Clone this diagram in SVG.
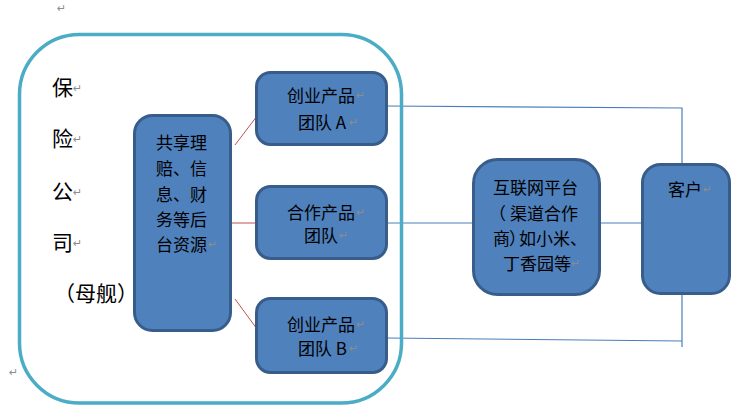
<svg xmlns="http://www.w3.org/2000/svg" width="755" height="415" viewBox="0 0 755 415">
<style>
.box{fill:#4F81BD;stroke:#385D8A;stroke-width:3}
.t{font-family:"Noto Sans CJK SC","Liberation Sans",sans-serif;font-size:17px;fill:#000}
.big{font-family:"Noto Sans CJK SC","Liberation Sans",sans-serif;font-size:21px;fill:#000}
.pm{font-family:"DejaVu Sans",sans-serif;font-size:11px;fill:#8c8c8c}
.red{stroke:#C0504D;stroke-width:1;fill:none}
.blue{stroke:#4A7EBB;stroke-width:1.2;fill:none}
</style>
<rect width="755" height="415" fill="#fff"/>
<text class="pm" x="57" y="12">↵</text>
<text class="pm" x="9" y="376">↵</text>
<g id="connectors">
<line class="red" x1="235" y1="145" x2="257" y2="116"/>
<line class="red" x1="231" y1="223" x2="257" y2="223"/>
<line class="red" x1="235" y1="299" x2="257" y2="329"/>
<line class="blue" x1="387" y1="223" x2="642" y2="223"/>
<polyline class="blue" points="386,106 682,108 682,164"/>
<line class="blue" x1="386" y1="338" x2="682" y2="341"/>
<line class="blue" x1="682" y1="294" x2="682" y2="347"/>
</g>
<g id="mothership">
<rect x="19.5" y="34.5" width="382" height="368.5" rx="60" fill="none" stroke="#4BACC6" stroke-width="3.5"/>
<text class="big" x="52" y="95">保</text><text class="pm" x="73" y="92">↵</text>
<text class="big" x="52" y="146">险</text><text class="pm" x="73" y="143">↵</text>
<text class="big" x="52" y="199">公</text><text class="pm" x="73" y="196">↵</text>
<text class="big" x="52" y="250">司</text><text class="pm" x="73" y="247">↵</text>
<text class="big" x="54" y="301">（母舰）</text>
</g>
<g id="shared">
<rect class="box" x="134.5" y="115.5" width="96" height="215" rx="18"/>
<text class="t" x="156" y="148.5">共享理</text>
<text class="t" x="156" y="174.5">赔、信</text>
<text class="t" x="156" y="200.5">息、财</text>
<text class="t" x="156" y="225.5">务等后</text>
<text class="t" x="156" y="250.5">台资源</text><text class="pm" x="208" y="248">↵</text>
</g>
<g id="teamA">
<rect class="box" x="256.5" y="72.5" width="130" height="72" rx="14"/>
<text class="t" x="287" y="101.5">创业产品</text><text class="pm" x="356" y="99">↵</text>
<text class="t" x="298" y="128.5">团队 A</text><text class="pm" x="349" y="126">↵</text>
</g>
<g id="teamCoop">
<rect class="box" x="256.5" y="186.5" width="130" height="72" rx="14"/>
<text class="t" x="287" y="218.5">合作产品</text><text class="pm" x="356" y="216">↵</text>
<text class="t" x="304" y="241.5">团队</text><text class="pm" x="339" y="239">↵</text>
</g>
<g id="teamB">
<rect class="box" x="256.5" y="298.5" width="130" height="74" rx="14"/>
<text class="t" x="287" y="330.5">创业产品</text><text class="pm" x="356" y="328">↵</text>
<text class="t" x="298" y="354.5">团队 B</text><text class="pm" x="349" y="352">↵</text>
</g>
<g id="platform">
<rect class="box" x="473.5" y="159.5" width="126" height="135" rx="24"/>
<text class="t" x="493" y="193.5">互联网平台</text>
<text class="t" x="489 510 527 544 561" y="219.5">（渠道合作</text>
<text class="t" x="493 509 519 536 553 570" y="244.5">商）如小米、</text>
<text class="t" x="503" y="269.5">丁香园等</text><text class="pm" x="571" y="267">↵</text>
</g>
<g id="customer">
<rect class="box" x="642.5" y="164.5" width="87" height="129" rx="18"/>
<text class="t" x="668" y="195.5">客户</text><text class="pm" x="703" y="193">↵</text>
</g>
</svg>
